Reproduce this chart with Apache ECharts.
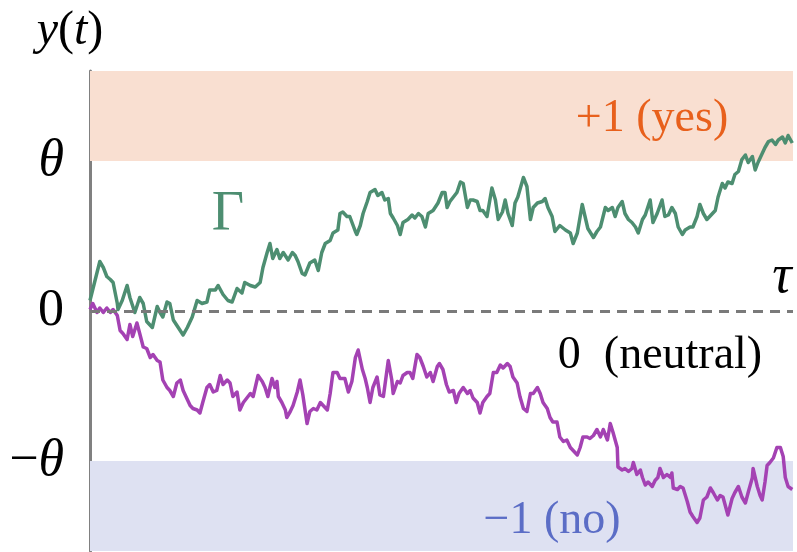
<!DOCTYPE html>
<html>
<head>
<meta charset="utf-8">
<script src="https://cdn.jsdelivr.net/npm/echarts@6/dist/echarts.min.js"></script>
<style>
html,body{margin:0;padding:0;background:#fff;}
#c{width:797px;height:552px;}
</style>
</head>
<body>
<div id="c"></div>
<script>
// threshold theta = 1 (units of y), time t in [0, 10]
const theta = 1;
const yRange = [-1.6, 1.6];
const tRange = [0, 10.04];
const tickValues = [-1, 0, 1];
const tickLabels = ['{r|−}{i|θ}', '{r|0}', '{i|θ}'];

// Gamma path (green)
const gammaPath = [
[0,0.07],[0.14,0.33],[0.19,0.29],[0.24,0.23],[0.29,0.21],[0.33,0.19],[0.39,0.05],[0.40,0.01],[0.46,0.07],[0.53,0.17],
[0.57,0.09],[0.64,-0.01],[0.71,0.09],[0.76,0.05],[0.81,-0.07],[0.89,-0.11],[0.96,0.03],[1.00,-0.01],[1.04,-0.04],[1.10,0.06],
[1.14,0.05],[1.19,-0.06],[1.26,-0.11],[1.33,-0.16],[1.39,-0.11],[1.46,-0.04],[1.53,0.07],[1.60,0.05],[1.67,0.06],[1.71,0.14],
[1.79,0.14],[1.83,0.17],[1.90,0.11],[1.97,0.07],[2.03,0.06],[2.10,0.15],[2.17,0.12],[2.21,0.19],[2.29,0.17],[2.36,0.16],
[2.43,0.19],[2.47,0.29],[2.53,0.39],[2.57,0.45],[2.61,0.35],[2.67,0.41],[2.71,0.35],[2.76,0.39],[2.83,0.34],[2.89,0.39],
[2.93,0.37],[2.97,0.33],[3.03,0.25],[3.07,0.24],[3.14,0.32],[3.21,0.34],[3.26,0.27],[3.31,0.39],[3.36,0.45],[3.43,0.47],
[3.47,0.52],[3.54,0.54],[3.57,0.65],[3.61,0.66],[3.67,0.63],[3.71,0.63],[3.79,0.53],[3.81,0.51],[3.86,0.57],[3.90,0.65],
[3.96,0.73],[4.00,0.79],[4.07,0.81],[4.11,0.77],[4.17,0.79],[4.21,0.74],[4.26,0.75],[4.29,0.65],[4.33,0.62],[4.39,0.57],
[4.43,0.51],[4.47,0.59],[4.54,0.61],[4.60,0.64],[4.64,0.62],[4.69,0.65],[4.74,0.63],[4.79,0.56],[4.83,0.65],[4.90,0.67],
[4.97,0.72],[5.03,0.79],[5.07,0.79],[5.10,0.69],[5.14,0.73],[5.19,0.76],[5.24,0.79],[5.29,0.86],[5.33,0.85],[5.39,0.69],
[5.43,0.74],[5.47,0.74],[5.53,0.73],[5.57,0.67],[5.61,0.67],[5.67,0.63],[5.74,0.82],[5.79,0.74],[5.83,0.61],[5.89,0.66],
[5.93,0.74],[5.97,0.65],[6.03,0.57],[6.07,0.72],[6.11,0.76],[6.19,0.89],[6.24,0.83],[6.29,0.61],[6.33,0.69],[6.39,0.72],
[6.46,0.73],[6.50,0.75],[6.54,0.69],[6.60,0.63],[6.64,0.53],[6.71,0.57],[6.79,0.54],[6.86,0.52],[6.90,0.45],[6.96,0.52],
[7.03,0.71],[7.07,0.63],[7.11,0.55],[7.19,0.49],[7.24,0.53],[7.29,0.56],[7.36,0.69],[7.40,0.67],[7.46,0.69],[7.50,0.63],
[7.54,0.69],[7.60,0.73],[7.64,0.65],[7.69,0.61],[7.74,0.59],[7.79,0.56],[7.83,0.52],[7.89,0.61],[7.93,0.64],[8.00,0.74],
[8.04,0.59],[8.10,0.65],[8.17,0.74],[8.21,0.63],[8.26,0.64],[8.31,0.69],[8.36,0.65],[8.40,0.56],[8.46,0.51],[8.50,0.54],
[8.57,0.56],[8.61,0.56],[8.67,0.63],[8.71,0.71],[8.76,0.65],[8.81,0.61],[8.89,0.65],[8.93,0.67],[8.97,0.76],[9.03,0.85],
[9.07,0.82],[9.11,0.86],[9.17,0.85],[9.21,0.91],[9.26,0.93],[9.31,1.01],[9.36,1.04],[9.40,0.99],[9.46,1.03],[9.50,0.94],
[9.54,0.99],[9.60,1.05],[9.64,1.09],[9.69,1.13],[9.74,1.14],[9.79,1.11],[9.83,1.14],[9.89,1.16],[9.93,1.12],[9.97,1.17],
[10.03,1.12]
];

// Neutral-drift path (purple)
const neutralPath = [
[0,0.01],[0.04,0.05],[0.10,-0.01],[0.14,0.02],[0.19,-0.01],[0.24,0.02],[0.29,-0.01],[0.33,0.01],[0.39,-0.03],[0.43,-0.13],
[0.47,-0.15],[0.53,-0.19],[0.57,-0.09],[0.61,-0.17],[0.67,-0.08],[0.71,-0.15],[0.76,-0.24],[0.81,-0.25],[0.86,-0.31],[0.90,-0.29],
[0.96,-0.33],[1.00,-0.34],[1.04,-0.46],[1.10,-0.51],[1.14,-0.53],[1.19,-0.57],[1.24,-0.48],[1.29,-0.46],[1.33,-0.53],[1.39,-0.59],
[1.43,-0.63],[1.47,-0.65],[1.53,-0.66],[1.57,-0.68],[1.61,-0.61],[1.67,-0.51],[1.71,-0.49],[1.76,-0.54],[1.81,-0.53],[1.86,-0.43],
[1.90,-0.49],[1.96,-0.46],[2.00,-0.48],[2.04,-0.57],[2.10,-0.54],[2.14,-0.66],[2.19,-0.61],[2.24,-0.58],[2.29,-0.55],[2.33,-0.57],
[2.40,-0.43],[2.46,-0.47],[2.50,-0.51],[2.54,-0.57],[2.60,-0.45],[2.64,-0.51],[2.67,-0.47],[2.69,-0.57],[2.74,-0.61],[2.79,-0.66],
[2.81,-0.71],[2.86,-0.67],[2.90,-0.63],[2.96,-0.54],[3.00,-0.46],[3.04,-0.56],[3.10,-0.75],[3.14,-0.67],[3.19,-0.65],[3.24,-0.66],
[3.29,-0.61],[3.33,-0.63],[3.39,-0.66],[3.43,-0.55],[3.47,-0.41],[3.53,-0.41],[3.57,-0.45],[3.64,-0.45],[3.69,-0.54],[3.74,-0.47],
[3.79,-0.31],[3.83,-0.26],[3.89,-0.39],[3.93,-0.45],[3.96,-0.51],[4.00,-0.61],[4.04,-0.51],[4.10,-0.44],[4.14,-0.56],[4.19,-0.57],
[4.26,-0.33],[4.31,-0.46],[4.33,-0.55],[4.39,-0.47],[4.43,-0.48],[4.47,-0.43],[4.53,-0.41],[4.57,-0.41],[4.61,-0.45],[4.67,-0.29],
[4.71,-0.31],[4.76,-0.37],[4.81,-0.44],[4.86,-0.41],[4.90,-0.47],[4.96,-0.37],[4.99,-0.35],[5.04,-0.39],[5.09,-0.49],[5.13,-0.54],
[5.19,-0.53],[5.23,-0.61],[5.27,-0.55],[5.33,-0.51],[5.39,-0.55],[5.43,-0.53],[5.47,-0.58],[5.53,-0.61],[5.57,-0.68],[5.61,-0.61],
[5.67,-0.57],[5.71,-0.55],[5.76,-0.41],[5.81,-0.41],[5.86,-0.36],[5.90,-0.38],[5.96,-0.35],[6.00,-0.37],[6.04,-0.44],[6.10,-0.48],
[6.14,-0.57],[6.19,-0.65],[6.24,-0.67],[6.29,-0.55],[6.33,-0.55],[6.39,-0.51],[6.43,-0.55],[6.47,-0.61],[6.53,-0.65],[6.57,-0.71],
[6.61,-0.74],[6.67,-0.74],[6.71,-0.84],[6.76,-0.87],[6.81,-0.86],[6.86,-0.91],[6.90,-0.93],[6.96,-0.96],[7.00,-0.91],[7.04,-0.84],
[7.10,-0.84],[7.14,-0.85],[7.19,-0.83],[7.24,-0.79],[7.29,-0.84],[7.33,-0.79],[7.39,-0.86],[7.43,-0.75],[7.47,-0.81],[7.53,-0.91],
[7.54,-1.04],[7.60,-1.06],[7.64,-1.05],[7.69,-1.07],[7.74,-1.05],[7.76,-1.01],[7.81,-1.09],[7.86,-1.06],[7.89,-1.11],[7.93,-1.16],
[7.97,-1.14],[8.03,-1.17],[8.07,-1.13],[8.11,-1.11],[8.14,-1.05],[8.19,-1.11],[8.24,-1.09],[8.29,-1.11],[8.31,-1.08],[8.33,-1.18],
[8.39,-1.19],[8.43,-1.17],[8.47,-1.18],[8.53,-1.27],[8.57,-1.34],[8.61,-1.37],[8.67,-1.41],[8.71,-1.38],[8.76,-1.26],[8.81,-1.24],
[8.86,-1.18],[8.90,-1.21],[8.96,-1.26],[9.00,-1.23],[9.04,-1.24],[9.11,-1.36],[9.17,-1.25],[9.21,-1.21],[9.26,-1.17],[9.31,-1.24],
[9.36,-1.28],[9.40,-1.21],[9.46,-1.11],[9.47,-1.05],[9.53,-1.17],[9.57,-1.23],[9.60,-1.26],[9.64,-1.14],[9.67,-1.03],[9.71,-1.01],
[9.76,-0.98],[9.81,-0.91],[9.86,-0.91],[9.90,-0.97],[9.93,-1.11],[9.97,-1.17],[10.03,-1.19]
];

const serif = '"Liberation Serif", "DejaVu Serif", serif';
const green = '#4d8e71';
const purple = '#a442b3';

const chart = echarts.init(document.getElementById('c'), null, {renderer: 'canvas'});
chart.setOption({
  animation: false,
  backgroundColor: '#ffffff',
  grid: {left: 90, right: 4, top: 71, bottom: 1, containLabel: false},
  xAxis: {
    type: 'value', min: tRange[0], max: tRange[1], show: false
  },
  yAxis: {
    type: 'value', min: yRange[0], max: yRange[1],
    axisLine: {show: true, onZero: false, lineStyle: {color: '#808080', width: 3}},
    axisTick: {show: false},
    splitLine: {show: false},
    axisLabel: {
      customValues: tickValues,
      margin: 26,
      formatter: function (v) {
        const i = tickValues.indexOf(Math.round(v * 100) / 100);
        return i >= 0 ? tickLabels[i] : '';
      },
      rich: {
        i: {fontFamily: serif, fontStyle: 'italic', fontSize: 52, color: '#000'},
        r: {fontFamily: serif, fontSize: 52, color: '#000'}
      }
    }
  },
  series: [
    {
      type: 'line', data: [[0, 0]], symbol: 'none', silent: true, z: 1,
      lineStyle: {width: 0, opacity: 0},
      markArea: {
        silent: true,
        data: [
          [{yAxis: theta, itemStyle: {color: '#f9dfd1'}}, {yAxis: yRange[1]}],
          [{yAxis: yRange[0], itemStyle: {color: '#dee1f2'}}, {yAxis: -theta}]
        ]
      },
      markLine: {
        silent: true, symbol: 'none', label: {show: false},
        lineStyle: {color: '#7a7a7a', width: 3, type: [10, 7]},
        data: [{yAxis: 0}]
      }
    },
    {
      name: 'Γ', type: 'line', data: gammaPath, symbol: 'none', z: 3,
      lineStyle: {color: green, width: 3.5, join: 'round'}
    },
    {
      name: 'neutral', type: 'line', data: neutralPath, symbol: 'none', z: 3,
      lineStyle: {color: purple, width: 3.5, join: 'round'}
    }
  ],
  graphic: {
    elements: [
    {type: 'text', x: 70, y: 31, z: 100, style: {
      text: '{i|y}{r|(}{i|t}{r|)}', align: 'center', verticalAlign: 'middle',
      rich: {i: {fontFamily: serif, fontStyle: 'italic', fontSize: 48, fill: '#000'},
             r: {fontFamily: serif, fontSize: 48, fill: '#000'}}
    }},
    {type: 'text', x: 228, y: 215, z: 100, style: {
      text: 'Γ', align: 'center', verticalAlign: 'middle',
      font: '56px ' + serif, fill: green
    }},
    {type: 'text', x: 652, y: 119, z: 100, style: {
      text: '+1 (yes)', align: 'center', verticalAlign: 'middle',
      font: '46px ' + serif, fill: '#e8601c'
    }},
    {type: 'text', x: 782, y: 278, z: 100, style: {
      text: 'τ', align: 'center', verticalAlign: 'middle',
      font: 'italic 54px ' + serif, fill: '#000'
    }},
    {type: 'text', x: 660, y: 356, z: 100, style: {
      text: '0  (neutral)', align: 'center', verticalAlign: 'middle',
      font: '46px ' + serif, fill: '#000'
    }},
    {type: 'text', x: 552, y: 521, z: 100, style: {
      text: '−1 (no)', align: 'center', verticalAlign: 'middle',
      font: '46px ' + serif, fill: '#5b6dc6'
    }}
    ]
  }
});
</script>
</body>
</html>
